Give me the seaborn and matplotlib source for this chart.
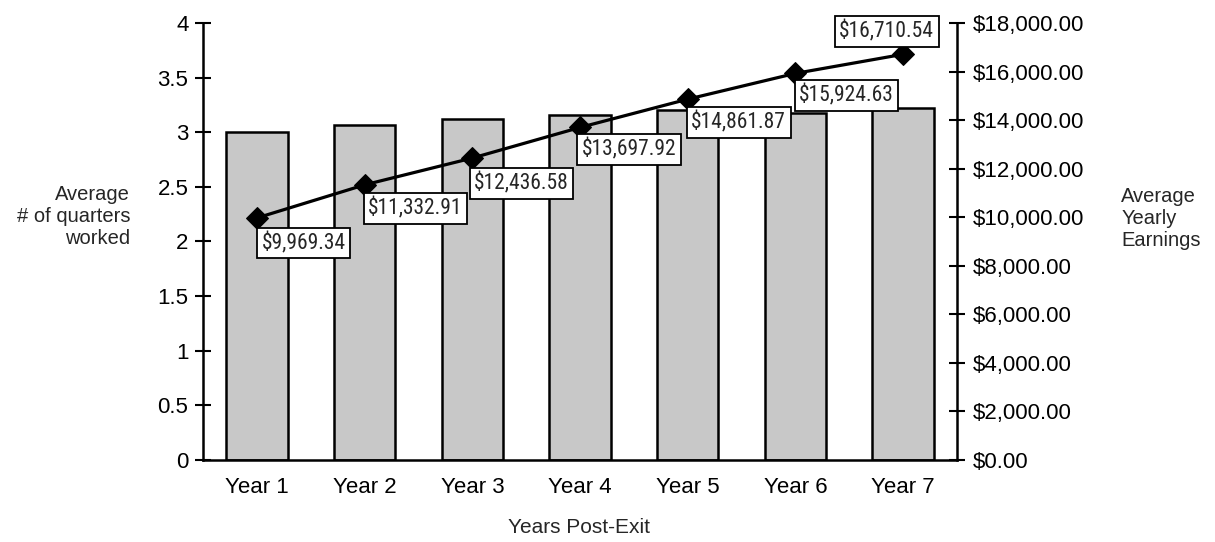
import matplotlib
matplotlib.use("Agg")
import matplotlib.pyplot as plt
import seaborn as sns
import pandas as pd

years = ["Year 1", "Year 2", "Year 3", "Year 4", "Year 5", "Year 6", "Year 7"]
quarters_worked = [3.00, 3.07, 3.12, 3.16, 3.20, 3.18, 3.22]
yearly_earnings = [9969.34, 11332.91, 12436.58, 13697.92, 14861.87, 15924.63, 16710.54]
left_ticks = [0, 0.5, 1, 1.5, 2, 2.5, 3, 3.5, 4]
left_tick_labels = ["0", "0.5", "1", "1.5", "2", "2.5", "3", "3.5", "4"]
right_ticks = list(range(0, 18001, 2000))

df = pd.DataFrame({"year": years, "quarters": quarters_worked, "earnings": yearly_earnings})

sns.set_theme(style="white")
plt.rcParams["font.family"] = ["Liberation Sans", "DejaVu Sans"]
NARROW = ["Roboto Condensed", "Liberation Sans", "DejaVu Sans"]

fig = plt.figure(figsize=(12.15, 5.42), dpi=100)
ax = fig.add_axes([0.1671, 0.1513, 0.6206, 0.8063])

sns.barplot(data=df, x="year", y="quarters", ax=ax, color="#c8c8c8",
            edgecolor="black", linewidth=1.8, width=0.57, saturation=1)
ax.set_ylim(0, 4)
ax.set_xlim(-0.5, len(years) - 0.5)
ax.set_yticks(left_ticks)
ax.set_yticklabels(left_tick_labels)
ax.tick_params(axis="y", direction="inout", length=11, width=1.5, labelsize=16,
               pad=5, colors="black")
ax.tick_params(axis="x", length=0, labelsize=16, pad=12, colors="black")
# category boundary ticks on the x axis
ax.set_xticks([i - 0.5 for i in range(1, len(years))], minor=True)
ax.tick_params(axis="x", which="minor", direction="inout", length=11, width=1.5)
for side in ["left", "bottom"]:
    ax.spines[side].set_linewidth(1.8)
    ax.spines[side].set_color("black")
ax.spines["top"].set_visible(False)
ax.spines["right"].set_visible(False)
ax.set_xlabel("")
ax.set_ylabel("")
fig.text(0.4765, 0.026, "Years Post-Exit", ha="center", va="center", fontsize=15)
fig.text(0.107, 0.600, "Average\n# of quarters\nworked", ha="right", va="center",
         fontsize=14.5, linespacing=1.2)

ax2 = ax.twinx()
sns.lineplot(data=df, x="year", y="earnings", ax=ax2, color="black", linewidth=2.3,
             marker="D", markersize=11, markeredgecolor="black")
ax2.set_ylim(0, 18000)
ax2.set_yticks(right_ticks)
ax2.set_yticklabels([f"${v:,.2f}" for v in right_ticks])
ax2.tick_params(axis="y", direction="inout", length=11, width=1.5, labelsize=16,
                pad=6, colors="black")
ax2.set_ylabel("")
for side in ["top", "left", "bottom"]:
    ax2.spines[side].set_visible(False)
ax2.spines["right"].set_linewidth(1.8)
ax2.spines["right"].set_color("black")
fig.text(0.923, 0.596, "Average\nYearly\nEarnings", ha="left", va="center",
         fontsize=14.5, linespacing=1.2)

# value label offsets in points
offsets = [(3.3, -18), (2.6, -17), (1.2, -18.5), (1.2, -16), (2.6, -17), (2.6, -16), (-46, 16.5)]
for i, (val, off) in enumerate(zip(yearly_earnings, offsets)):
    ax2.annotate(f"${val:,.2f}", xy=(i, val), xytext=off, textcoords="offset points",
                 ha="left", va="center", fontsize=15.5, family=NARROW,
                 bbox=dict(boxstyle="square,pad=0.2", fc="white", ec="black", lw=1.3))

fig.savefig("out.png", dpi=100)
